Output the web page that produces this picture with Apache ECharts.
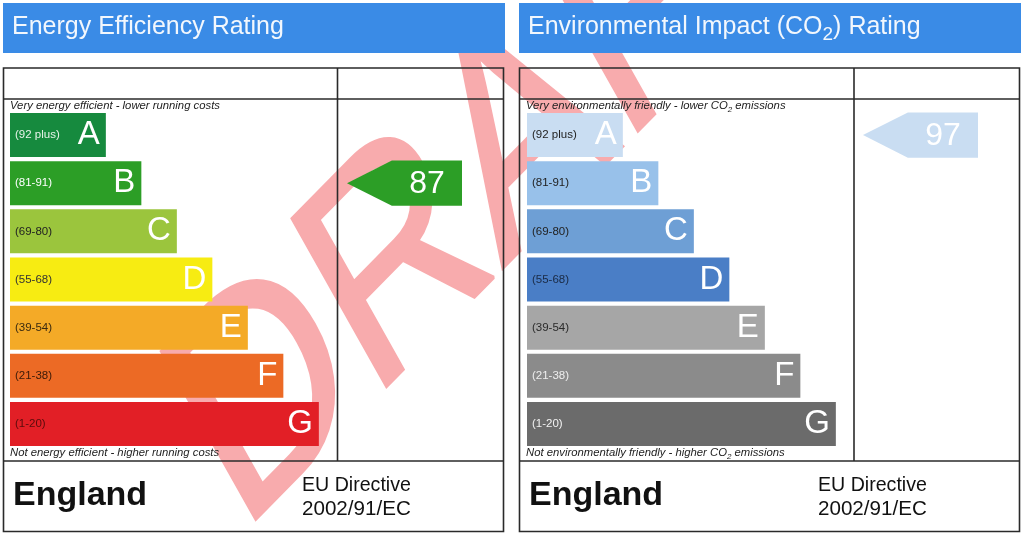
<!DOCTYPE html>
<html>
<head>
<meta charset="utf-8">
<script src="https://cdn.jsdelivr.net/npm/echarts@6/dist/echarts.min.js"></script>
<style>html,body{margin:0;padding:0;background:#fff}#c{width:1024px;height:536px}</style>
</head>
<body>
<div id="c"></div>
<script>
// ---- data ----
const bands = ['A', 'B', 'C', 'D', 'E', 'F', 'G'];
const ranges = ['(92 plus)', '(81-91)', '(69-80)', '(55-68)', '(39-54)', '(21-38)', '(1-20)'];
const bandMin = [92, 81, 69, 55, 39, 21, 1];
const barLength = [27, 37, 47, 57, 67, 77, 87];
const energyColors = ['#168a3e', '#2c9e26', '#9bc53d', '#f7ec12', '#f4aa27', '#ec6a25', '#e21f26'];
const energyRangeColors = ['#e8f3ea', '#ffffff', '#222222', '#333333', '#3a2a10', '#3a1a08', '#5a0c0c'];
const co2Colors = ['#c9ddf2', '#98c1ea', '#6e9fd5', '#4a7ec6', '#a6a6a6', '#8b8b8b', '#6b6b6b'];
const co2RangeColors = ['#222222', '#222222', '#222222', '#1a2a44', '#2a2a2a', '#eeeeee', '#f2f2f2'];
const energyRating = 87;
const co2Rating = 97;
const energyArrowColor = '#2c9e26';
const co2ArrowColor = '#c9ddf2';

const FF = '"Liberation Sans", Arial, sans-serif';
function bandOf(r) { for (let i = 0; i < bandMin.length; i++) if (r >= bandMin[i]) return i; return bandMin.length - 1; }

const chart = echarts.init(document.getElementById('c'), null, { renderer: 'canvas' });

const gridTop = 111, gridH = 337;
const grids = [
  { left: 10, top: gridTop, width: 355, height: gridH },
  { left: 347, top: gridTop, width: 115, height: gridH },
  { left: 527, top: gridTop, width: 355, height: gridH },
  { left: 863, top: gridTop, width: 115, height: gridH }
];
const xAxes = grids.map((g, i) => ({ gridIndex: i, type: 'value', min: 0, max: (i % 2 === 0) ? 100 : 1, show: false }));
const yAxes = grids.map((g, i) => ({ gridIndex: i, type: 'category', data: bands, inverse: true, show: false }));

function barSeries(gi, colors, rangeColors) {
  return [
    {
      type: 'bar', xAxisIndex: gi, yAxisIndex: gi, barWidth: 44, barGap: '-100%', z: 3,
      data: barLength.map((v, i) => ({ value: v, itemStyle: { color: colors[i] } })),
      label: { show: true, position: 'insideRight', distance: 6, formatter: p => bands[p.dataIndex], color: '#ffffff', fontSize: 33, fontFamily: FF },
      silent: true, animation: false
    },
    {
      type: 'bar', xAxisIndex: gi, yAxisIndex: gi, barWidth: 44, barGap: '-100%', z: 4,
      data: barLength.map((v, i) => ({ value: v, label: { color: rangeColors[i] } })),
      itemStyle: { color: 'rgba(0,0,0,0)' },
      label: { show: true, position: 'insideLeft', distance: 5, formatter: p => ranges[p.dataIndex], fontSize: 11.5, fontFamily: FF },
      silent: true, animation: false
    }
  ];
}
function arrowSeries(gi, rating, color) {
  return {
    type: 'custom', xAxisIndex: gi, yAxisIndex: gi, z: 5, silent: true, animation: false,
    data: [[0, bandOf(rating), rating]],
    renderItem: function (params, api) {
      const idx = api.value(1);
      const p0 = api.coord([0, idx]);
      const p1 = api.coord([1, idx]);
      const h = api.size([0, 1])[1] * 0.94;
      const xs = p0[0], xe = p1[0], yc = p0[1];
      const xm = xs + (xe - xs) * 0.39;
      return {
        type: 'group', children: [
          { type: 'polygon', shape: { points: [[xs, yc], [xm, yc - h / 2], [xe, yc - h / 2], [xe, yc + h / 2], [xm, yc + h / 2]] }, style: { fill: color } },
          { type: 'text', style: { text: String(api.value(2)), x: (xm + xe) / 2, y: yc + 1, align: 'center', verticalAlign: 'middle', fill: '#ffffff', font: '32px ' + FF } }
        ]
      };
    }
  };
}

const lineStyle = { stroke: '#2a2a2a', lineWidth: 1.6 };
function panelGraphics(ox, headerRich, topRich, bottomRich, vx) {
  const w = 501;
  return [
    { type: 'rect', shape: { x: ox, y: 3, width: w + 1, height: 50 }, style: { fill: '#3a8be6' }, z: 10 },
    { type: 'text', x: ox + 9, y: 27, style: Object.assign({ verticalAlign: 'middle', fill: '#f2f7fd', font: '25px ' + FF }, headerRich), z: 11 },
    { type: 'rect', shape: { x: ox + 0.5, y: 68, width: w - 1, height: 463.5 }, style: Object.assign({ fill: 'none' }, lineStyle), z: 10 },
    { type: 'line', shape: { x1: ox + 0.5, y1: 99, x2: ox + w - 0.5, y2: 99 }, style: lineStyle, z: 10 },
    { type: 'line', shape: { x1: ox + 0.5, y1: 461, x2: ox + w - 0.5, y2: 461 }, style: lineStyle, z: 10 },
    { type: 'line', shape: { x1: vx, y1: 68, x2: vx, y2: 461 }, style: lineStyle, z: 10 },
    { type: 'text', x: ox + 7, y: 106, style: Object.assign({ verticalAlign: 'middle', fill: '#222' }, topRich), z: 11 },
    { type: 'text', x: ox + 7, y: 453, style: Object.assign({ verticalAlign: 'middle', fill: '#222' }, bottomRich), z: 11 },
    { type: 'text', x: ox + 10, y: 496, style: { text: 'England', verticalAlign: 'middle', fill: '#111', font: 'bold 34px ' + FF }, z: 11 },
    { type: 'text', x: ox + 299, y: 486, style: { text: 'EU Directive', verticalAlign: 'middle', fill: '#111', font: '19.6px ' + FF }, z: 11 },
    { type: 'text', x: ox + 299, y: 509, style: { text: '2002/91/EC', verticalAlign: 'middle', fill: '#111', font: '20.6px ' + FF }, z: 11 }
  ];
}
const italicRich = {
  m: { fontSize: 11.3, fontStyle: 'italic', fontFamily: FF, lineHeight: 16, fill: '#222' },
  s: { fontSize: 8, fontStyle: 'italic', fontFamily: FF, lineHeight: 8, verticalAlign: 'bottom', fill: '#222' }
};
const headRich = {
  m: { fontSize: 25, fontFamily: FF, lineHeight: 35, fill: '#f2f7fd' },
  s: { fontSize: 19, fontFamily: FF, lineHeight: 19, verticalAlign: 'bottom', fill: '#f2f7fd' }
};

// DRAFT watermark: skewed/rotated text built from nested transforms (M = U * S * V)
function watermarkGraphic() {
  const fs = 265;
  const ka = 0.9736, kb = 1.057;
  const m00 = ka * 0.7016, m10 = ka * -0.7126, m01 = kb * 0.4905, m11 = kb * 0.8714;
  const E = (m00 + m11) / 2, F = (m00 - m11) / 2, G = (m10 + m01) / 2, H = (m10 - m01) / 2;
  const Q = Math.hypot(E, H), R = Math.hypot(F, G);
  const sx = Q + R, sy = Q - R;
  const a1 = Math.atan2(G, F), a2 = Math.atan2(H, E);
  const th = (a2 - a1) / 2, ph = (a2 + a1) / 2;
  return {
    type: 'group', x: 203, y: 467, rotation: -ph, z: 0, silent: true,
    children: [{
      type: 'group', scaleX: sx, scaleY: sy, silent: true,
      children: [{
        type: 'text', rotation: -th, silent: true, z: 0,
        style: { text: 'DRAFT', x: 0, y: 0, align: 'left', verticalAlign: 'middle', fill: '#f8abad', stroke: '#f8abad', lineWidth: 3, font: fs + 'px ' + FF }
      }]
    }]
  };
}

const graphics = [watermarkGraphic()].concat(
  panelGraphics(3,
    { text: '{m|Energy Efficiency Rating}', rich: headRich },
    { text: '{m|Very energy efficient - lower running costs}', rich: italicRich },
    { text: '{m|Not energy efficient - higher running costs}', rich: italicRich }, 337.5),
  panelGraphics(519,
    { text: '{m|Environmental Impact (CO}{s|2}{m|) Rating}', rich: headRich },
    { text: '{m|Very environmentally friendly - lower CO}{s|2}{m| emissions}', rich: italicRich },
    { text: '{m|Not environmentally friendly - higher CO}{s|2}{m| emissions}', rich: italicRich }, 854)
);

chart.setOption({
  backgroundColor: '#ffffff',
  animation: false,
  textStyle: { fontFamily: FF },
  grid: grids,
  xAxis: xAxes,
  yAxis: yAxes,
  graphic: { elements: graphics },
  series: [].concat(
    barSeries(0, energyColors, energyRangeColors),
    [arrowSeries(1, energyRating, energyArrowColor)],
    barSeries(2, co2Colors, co2RangeColors),
    [arrowSeries(3, co2Rating, co2ArrowColor)]
  )
});
</script>
</body>
</html>
